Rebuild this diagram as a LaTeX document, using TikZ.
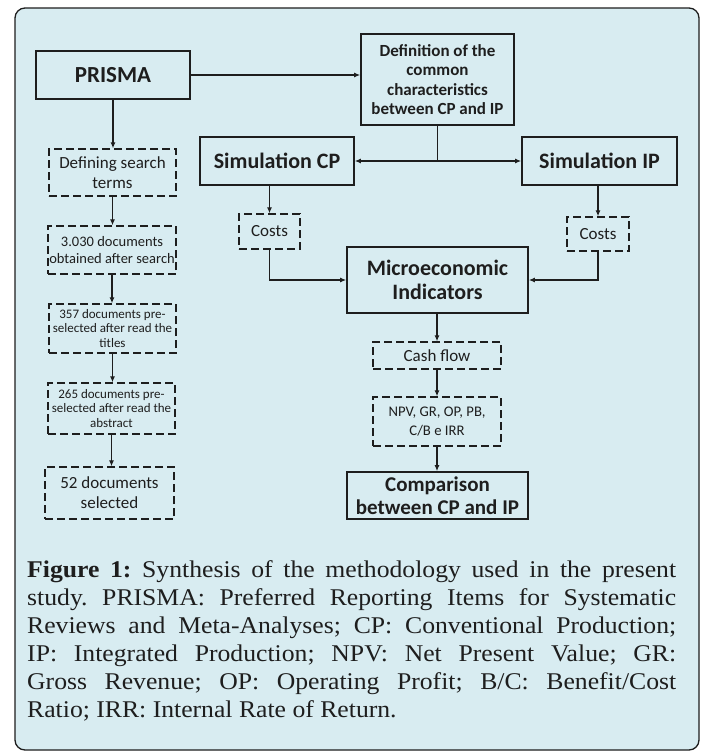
\documentclass[tikz,border=0pt]{standalone}
\usepackage{fontspec}
\setmainfont{Carlito}
\newfontfamily\capfont[FakeStretch=1.07]{Liberation Serif}
\usetikzlibrary{arrows.meta}
\definecolor{bgblue}{RGB}{216,236,241}
\definecolor{ink}{RGB}{30,30,30}
\newcommand{\fs}[2]{\fontsize{#1}{#2}\selectfont}
\newcommand{\capline}[1]{\makebox[649pt][s]{#1}}
\frenchspacing
\begin{document}
\begin{tikzpicture}[x=1pt,y=-1pt,
  solidbox/.style={draw=ink, line width=1.6pt, align=center, inner sep=2pt, text=ink},
  dashbox/.style={draw=ink, line width=1.3pt, dash pattern=on 8pt off 4pt, align=center, inner sep=1pt, text=ink},
  conn/.style={draw=ink, line width=1.2pt, -{Latex[length=6pt,width=5pt]}},
  plain/.style={draw=ink, line width=1.2pt}]
\useasboundingbox (0,0) rectangle (703,753);
\fill[white] (0,0) rectangle (703,753);
\draw[draw=ink, fill=bgblue, line width=1.3pt, rounded corners=10pt] (15,8) rectangle (699,750);

% left column
\node[solidbox, minimum width=154pt, minimum height=48pt, font=\bfseries\fs{23}{27}] (prisma) at (113,75) {PRISMA};
\node[dashbox, minimum width=127pt, minimum height=47pt, font=\fs{17}{20}] (define) at (112.5,172.5) {Defining search\\terms};
\node[dashbox, minimum width=128pt, minimum height=48pt, font=\fs{14.5}{16.7}] (d3030) at (112,250) {3.030 documents\\obtained after search};
\node[dashbox, minimum width=127pt, minimum height=49pt, font=\fs{13}{14.7}] (d357) at (112.5,328.5) {357 documents pre-\\selected after read the\\titles};
\node[dashbox, minimum width=127pt, minimum height=51pt, font=\fs{13}{14.7}] (d265) at (111.5,408.5) {265 documents pre-\\selected after read the\\abstract};
\node[dashbox, minimum width=129pt, minimum height=52pt, font=\fs{17}{20}] (d52) at (109.5,493) {52 documents\\selected};

% right part
\node[solidbox, minimum width=153pt, minimum height=91pt, font=\bfseries\fs{17}{19.5}] (def) at (437.5,79.5) {Definition of the\\common\\characteristics\\between CP and IP};
\node[solidbox, minimum width=154pt, minimum height=48pt, font=\bfseries\fs{22}{26}] (simcp) at (277,161) {Simulation CP};
\node[solidbox, minimum width=155pt, minimum height=48pt, font=\bfseries\fs{22}{26}] (simip) at (599.5,161) {Simulation IP};
\node[dashbox, minimum width=61pt, minimum height=35pt, font=\fs{17}{20}] (costcp) at (269.5,231.5) {Costs};
\node[dashbox, minimum width=62pt, minimum height=34pt, font=\fs{17}{20}] (costip) at (598,234) {Costs};
\node[solidbox, minimum width=181pt, minimum height=66pt, font=\bfseries\fs{22}{24}] (micro) at (437.5,280) {Microeconomic\\Indicators};
\node[dashbox, minimum width=128pt, minimum height=27pt, font=\fs{17}{20}] (cash) at (437,355.5) {Cash flow};
\node[dashbox, minimum width=128pt, minimum height=49pt, font=\fs{14.7}{19}] (npv) at (437,421.5) {NPV, GR, OP, PB,\\C/B e IRR};
\node[solidbox, minimum width=181pt, minimum height=47pt, font=\bfseries\fs{21}{23}] (comp) at (437.5,495.5) {Comparison\\between CP and IP};

\coordinate (split) at (437.5,161);

% connectors
\draw[conn] (prisma.east) -- (prisma.east -| def.west);
\draw[conn] (prisma.south) -- (prisma.south |- define.north);
\draw[conn] (define.south) -- (define.south |- d3030.north);
\draw[conn] (d3030.south) -- (d3030.south |- d357.north);
\draw[conn] (d357.south) -- (d357.south |- d265.north);
\draw[conn] (d265.south) -- (d265.south |- d52.north);
\draw[plain] (def.south) -- (split);
\draw[conn] (split) -- (simcp.east);
\draw[conn] (split) -- (simip.west);
\draw[conn] (simcp.south -| costcp.north) -- (costcp.north);
\draw[conn] (simip.south -| costip.north) -- (costip.north);
\draw[conn] (costcp.south) |- (micro.west);
\draw[conn] (costip.south) |- (micro.east);
\draw[conn] (micro.south -| cash.north) -- (cash.north);
\draw[conn] (cash.south) -- (npv.north);
\draw[conn] (npv.south) -- (npv.south |- comp.north);

% caption
\node[anchor=north west, inner sep=0pt, align=left, text=ink, font=\capfont\fs{24}{28}] (caption) at (27,560) {%
\capline{\textbf{Figure 1:} Synthesis of the methodology used in the present}\\
\capline{study. PRISMA: Preferred Reporting Items for Systematic}\\
\capline{Reviews and Meta-Analyses; CP: Conventional Production;}\\
\capline{IP: Integrated Production; NPV: Net Present Value; GR:}\\
\capline{Gross Revenue; OP: Operating Profit; B/C: Benefit/Cost}\\
Ratio; IRR: Internal Rate of Return.};
\end{tikzpicture}
\end{document}
